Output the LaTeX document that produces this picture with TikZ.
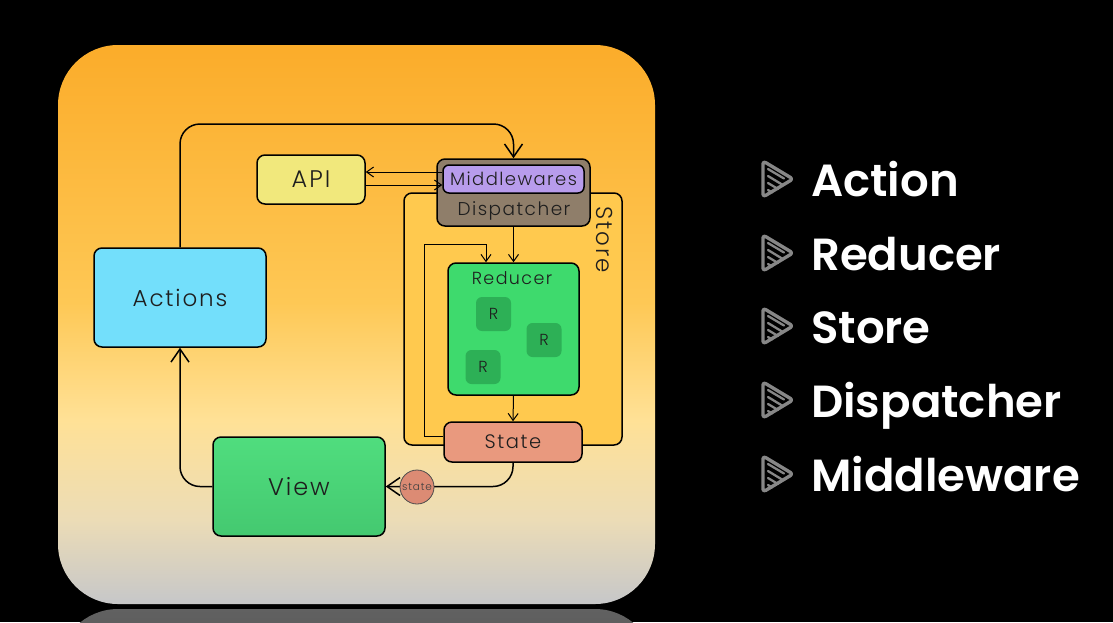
\documentclass[tikz,border=0pt]{standalone}
\usepackage{fontspec}
\setmainfont{Poppins}
\newfontfamily\diagfont[LetterSpace=8]{Poppins Light}
\newfontfamily\listfont{Poppins SemiBold}
\usetikzlibrary{arrows.meta,calc}
\definecolor{ptop}{RGB}{251,172,42}
\definecolor{pa}{RGB}{254,200,85}
\definecolor{pb}{RGB}{255,225,150}
\definecolor{pc}{RGB}{236,220,182}
\definecolor{pbot}{RGB}{200,200,200}
\definecolor{storec}{RGB}{255,201,78}
\definecolor{actc}{RGB}{115,223,251}
\definecolor{apic}{RGB}{241,232,124}
\definecolor{dispc}{RGB}{143,126,106}
\definecolor{mwc}{RGB}{184,156,236}
\definecolor{redc}{RGB}{62,218,109}
\definecolor{rc}{RGB}{45,176,86}
\definecolor{statec}{RGB}{233,153,126}
\definecolor{viewt}{RGB}{80,221,126}
\definecolor{viewb}{RGB}{68,201,112}
\definecolor{circc}{RGB}{220,139,116}
\definecolor{txt}{RGB}{30,30,30}
\definecolor{icon}{RGB}{135,135,135}
\pgfdeclareverticalshading{panelshade}{100bp}{color(0bp)=(pbot); color(25.4bp)=(pbot); color(32.6bp)=(pc); color(41.5bp)=(pb); color(52bp)=(pa); color(75bp)=(ptop); color(100bp)=(ptop)}
\tikzset{
  box/.style={draw=black, line width=1.5pt, rounded corners=8pt, text=txt, font=\diagfont, inner sep=0pt},
  conn/.style={draw=black, line width=1.5pt, rounded corners=20pt, -{Straight Barb[length=13pt,width=18pt,line width=1.5pt]}},
  thin/.style={draw=black, line width=1pt, -{Straight Barb[length=7pt,width=10pt,line width=1pt]}},
  rbox/.style={fill=rc, rounded corners=6pt, minimum width=35pt, minimum height=34pt, text=txt, font=\diagfont\fontsize{16}{16}\selectfont, inner sep=0pt},
  item/.style={anchor=base west, text=white, font=\listfont\fontsize{45}{45}\selectfont, inner sep=0pt},
}
\newcommand{\playicon}[2]{%
  \begin{scope}[shift={(#1,#2)}]
    \draw[icon, line width=3.4pt, line join=round, rounded corners=3pt] (-14,-18) -- (16,0) -- (-14,18) -- cycle;
    \draw[icon, line width=2.3pt, line cap=round] (-9,-10) -- (7,-0.5) (-9,-3) -- (5,5.5) (-9,4) -- (1,10) (-9,11) -- (-5,13.5);
  \end{scope}}
\begin{document}
\begin{tikzpicture}[x=1pt,y=-1pt]
\useasboundingbox (0,0) rectangle (1113,622);
\fill[black] (0,0) rectangle (1113,622);
% panel
\shade[shading=panelshade] (58,45) [rounded corners=60pt] -- (655,45) -- (655,604) -- (58,604) -- cycle;
% reflection
\begin{scope}
  \clip (0,609) rectangle (1113,622);
  \shade[top color=black!62, bottom color=black!80] (58,609) [rounded corners=60pt] -- (655,609) -- (655,900) -- (58,900) -- cycle;
\end{scope}
% store
\node[box, fill=storec, minimum width=218pt, minimum height=252pt] (store) at (513,319) {};
\node[text=txt, font=\diagfont\fontsize{23}{23}\selectfont, rotate=-90] (storet) at (605,240) {Store};
% nodes
\node[box, fill=actc, minimum width=172pt, minimum height=99pt, font=\diagfont\fontsize{23}{23}\selectfont] (act) at (180,297.5) {Actions};
\node[box, fill=apic, minimum width=108pt, minimum height=49pt, font=\diagfont\fontsize{24}{24}\selectfont] (api) at (311,179.5) {API};
\node[box, fill=dispc, minimum width=153pt, minimum height=67pt] (disp) at (513.5,192.5) {};
\node[text=txt, font=\diagfont\fontsize{18.5}{18.5}\selectfont, inner sep=0pt] (dispt) at (514,211) {Dispatcher};
\node[box, fill=mwc, rounded corners=6pt, minimum width=141pt, minimum height=28pt, font=\diagfont\fontsize{18}{18}\selectfont] (mw) at (513.5,179) {Middlewares};
\node[box, fill=redc, minimum width=131pt, minimum height=132pt] (red) at (513.5,329) {};
\node[text=txt, font=\diagfont\fontsize{17.5}{17.5}\selectfont, inner sep=0pt] (redt) at (512,278) {Reducer};
\node[rbox] (r1) at (493.5,314) {R};
\node[rbox] (r2) at (544,340) {R};
\node[rbox] (r3) at (483,367) {R};
\node[box, fill=statec, minimum width=138pt, minimum height=40pt, font=\diagfont\fontsize{19.5}{19.5}\selectfont] (state) at (513,442) {State};
\node[box, top color=viewt, bottom color=viewb, minimum width=172pt, minimum height=99pt, font=\diagfont\fontsize{24}{24}\selectfont] (view) at (299,486.5) {View};
% connectors
\draw[conn] (act.north) -- (act.north |- 0,124) -- (disp.north |- 0,124) -- (disp.north);
\draw[conn] (view.west) -- (act.south |- view.west) -- (act.south);
\draw[conn] (state.south) -- (state.south |- view.east) -- (view.east);
\draw[thin] (mw.west |- 0,172) -- (api.east |- 0,172);
\draw[thin] (api.east |- 0,185) -- (mw.west |- 0,185);
\draw[thin] (disp.south) -- (red.north);
\draw[thin] (red.south) -- (state.north);
\draw[thin] (state.west |- 0,436) -- (424,436) -- (424,244) -- (486,244) -- (486,0 |- red.north);
% state circle
\node[circle, draw=black!70, line width=0.8pt, fill=circc, minimum size=34pt, inner sep=0pt, text=black!75, font=\diagfont\fontsize{10.5}{10.5}\selectfont] (sc) at (417,487) {state};
% right list
\playicon{777}{179}
\node[item] (i1) at (811,196) {Action};
\playicon{777}{253}
\node[item] (i2) at (811,270) {Reducer};
\playicon{777}{326}
\node[item] (i3) at (811,343) {Store};
\playicon{777}{400}
\node[item] (i4) at (811,417) {Dispatcher};
\playicon{777}{474}
\node[item] (i5) at (811,491) {Middleware};
\end{tikzpicture}
\end{document}
